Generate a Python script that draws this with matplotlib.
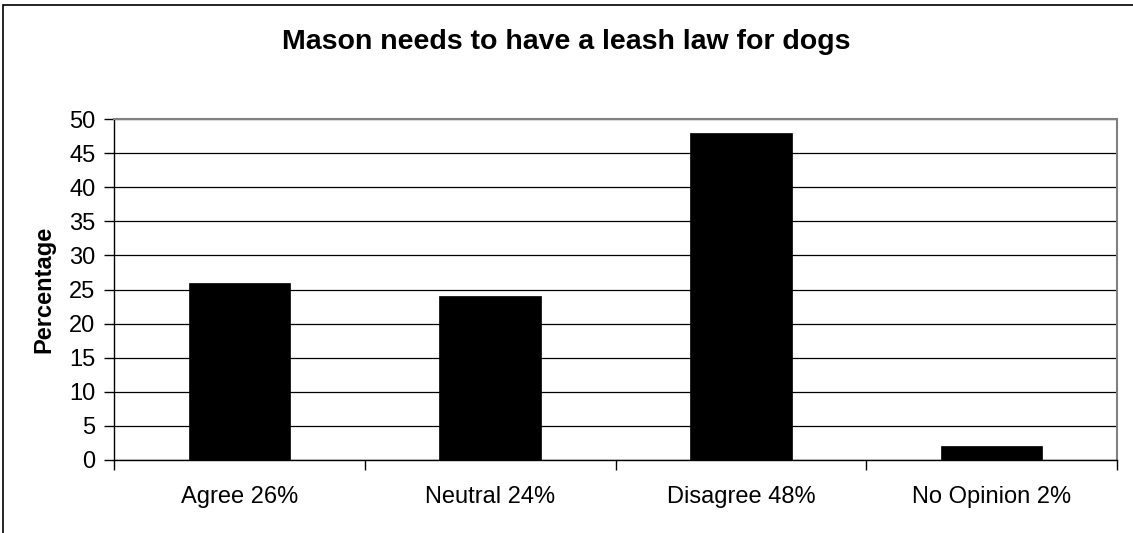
import matplotlib
matplotlib.use("Agg")
import matplotlib.pyplot as plt
from matplotlib.patches import Rectangle

categories = ["Agree 26%", "Neutral 24%", "Disagree 48%", "No Opinion 2%"]
values = [26, 24, 48, 2]
yticks = [0, 5, 10, 15, 20, 25, 30, 35, 40, 45, 50]
title = "Mason needs to have a leash law for dogs"
ylabel = "Percentage"

plt.rcParams['font.family'] = ['Liberation Sans', 'DejaVu Sans']

W, H = 1133, 533
fig = plt.figure(figsize=(W / 100, H / 100), dpi=100)
fig.patch.set_facecolor('white')

# outer chart frame (extends beyond the right/bottom edges)
fig.patches.append(Rectangle((3 / W, -0.1), 1.2, 1 - 5 / H + 0.1, transform=fig.transFigure,
                             fill=False, edgecolor='black', linewidth=1.2, zorder=0))

left, right, top, bottom = 114, 1117, 119, 460
ax = fig.add_axes([left / W, 1 - bottom / H, (right - left) / W, (bottom - top) / H])

x = list(range(len(categories)))
ax.bar(x, values, width=0.405, color='black', edgecolor='black', linewidth=0.5, zorder=3)

ax.set_xlim(-0.5, len(categories) - 0.5)
ax.set_ylim(0, 50)
ax.set_yticks(yticks)
ax.set_yticklabels([str(v) for v in yticks])
ax.yaxis.grid(True, color='black', linewidth=0.9, zorder=1)
ax.set_axisbelow(True)

# category boundaries as major ticks, labels on minor ticks at centers
ax.set_xticks([i - 0.5 for i in range(len(categories) + 1)])
ax.set_xticklabels([])
ax.set_xticks(x, minor=True)
ax.set_xticklabels(categories, minor=True)
ax.tick_params(axis='x', which='major', direction='out', length=7, width=1, color='black')
ax.tick_params(axis='x', which='minor', length=0, pad=18.5, labelsize=17)
ax.tick_params(axis='y', direction='out', length=7, width=1, color='black', pad=6.5, labelsize=17)

for s in ['left', 'bottom']:
    ax.spines[s].set_color('black')
    ax.spines[s].set_linewidth(1.0)
for s in ['top', 'right']:
    ax.spines[s].set_color('#808080')
    ax.spines[s].set_linewidth(1.5)

fig.text(0.5, 1 - 42 / H, title, ha='center', va='center', fontsize=20.5, fontweight='bold')
fig.text(44 / W, 1 - 289.5 / H, ylabel, ha='center', va='center', rotation=90,
         fontsize=17, fontweight='bold')

fig.savefig("out.png", dpi=100)
